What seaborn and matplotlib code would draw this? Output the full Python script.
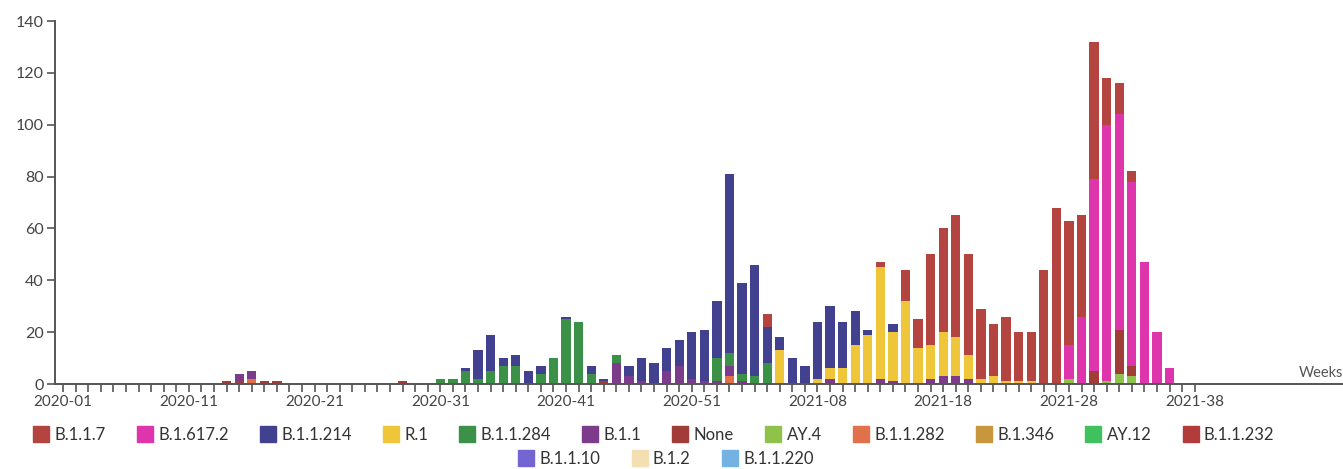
import matplotlib
matplotlib.use("Agg")
import matplotlib.pyplot as plt
from matplotlib.lines import Line2D
import pandas as pd
import seaborn as sns

# lineage order as in the legend (first = top of stack)
LINEAGES = ["B.1.1.7", "B.1.617.2", "B.1.1.214", "R.1", "B.1.1.284", "B.1.1",
            "None", "AY.4", "B.1.1.282", "B.1.346", "AY.12", "B.1.1.232",
            "B.1.1.10", "B.1.2", "B.1.1.220"]
COLORS = ["#b4443f", "#de35ad", "#41418f", "#efc53a", "#3b9147", "#7d3b8b",
          "#a13c38", "#8fc24a", "#e0714a", "#c8963c", "#3fc25e", "#b23b3b",
          "#7466d2", "#f4dfb2", "#74b2e2"]

# weekly counts per lineage
B_1_1_7 = {"2021-04": 5, "2021-13": 2, "2021-15": 12, "2021-16": 11, "2021-17": 35,
           "2021-18": 40, "2021-19": 47, "2021-20": 39, "2021-21": 27, "2021-22": 20,
           "2021-23": 25, "2021-24": 19, "2021-25": 19, "2021-26": 44, "2021-27": 68,
           "2021-28": 48, "2021-29": 39, "2021-30": 53, "2021-31": 18, "2021-32": 12,
           "2021-33": 4}
B_1_617_2 = {"2021-28": 13, "2021-29": 26, "2021-30": 74, "2021-31": 99, "2021-32": 83,
             "2021-33": 71, "2021-34": 47, "2021-35": 20, "2021-36": 6}
B_1_1_214 = {"2020-33": 1, "2020-34": 11, "2020-35": 14, "2020-36": 3, "2020-37": 4,
             "2020-38": 5, "2020-39": 3, "2020-41": 1, "2020-43": 3, "2020-44": 1,
             "2020-46": 4, "2020-47": 9, "2020-48": 8, "2020-49": 9, "2020-50": 10,
             "2020-51": 18, "2020-52": 20, "2020-53": 22, "2021-01": 69, "2021-02": 35,
             "2021-03": 43, "2021-04": 14, "2021-05": 5, "2021-06": 10, "2021-07": 7,
             "2021-08": 22, "2021-09": 24, "2021-10": 18, "2021-11": 13, "2021-12": 2,
             "2021-14": 3}
R_1 = {"2021-05": 13, "2021-08": 2, "2021-09": 4, "2021-10": 6, "2021-11": 15,
       "2021-12": 19, "2021-13": 43, "2021-14": 19, "2021-15": 32, "2021-16": 14,
       "2021-17": 13, "2021-18": 17, "2021-19": 15, "2021-20": 9, "2021-21": 2,
       "2021-22": 3, "2021-23": 1, "2021-24": 1, "2021-25": 1}
B_1_1_284 = {"2020-31": 2, "2020-32": 2, "2020-33": 5, "2020-34": 2, "2020-35": 5,
             "2020-36": 7, "2020-37": 7, "2020-39": 4, "2020-40": 10, "2020-41": 25,
             "2020-42": 24, "2020-43": 4, "2020-45": 3, "2020-53": 9, "2021-01": 5,
             "2021-02": 3, "2021-03": 3, "2021-04": 8}
B_1_1 = {"2020-15": 3, "2020-16": 3, "2020-45": 8, "2020-46": 3, "2020-47": 1,
         "2020-49": 5, "2020-50": 7, "2020-51": 2, "2020-52": 1, "2020-53": 1,
         "2021-01": 4, "2021-02": 1, "2021-09": 2, "2021-13": 2, "2021-14": 1,
         "2021-17": 2, "2021-18": 3, "2021-19": 3, "2021-20": 2}
NONE = {"2020-14": 1, "2020-15": 1, "2020-17": 1, "2020-18": 1, "2020-28": 1,
        "2020-44": 1, "2021-30": 5, "2021-32": 17, "2021-33": 4}
AY_4 = {"2021-28": 2, "2021-31": 1, "2021-32": 4, "2021-33": 3}
B_1_1_282 = {"2020-16": 2, "2021-01": 3}

COUNTS = {"B.1.1.7": B_1_1_7, "B.1.617.2": B_1_617_2, "B.1.1.214": B_1_1_214,
          "R.1": R_1, "B.1.1.284": B_1_1_284, "B.1.1": B_1_1, "None": NONE,
          "AY.4": AY_4, "B.1.1.282": B_1_1_282}

TICK_WEEKS = ["2020-01", "2020-11", "2020-21", "2020-31", "2020-41", "2020-51",
              "2021-08", "2021-18", "2021-28", "2021-38"]


def week_index(label):
    year, week = label.split("-")
    return int(week) - 1 if year == "2020" else 52 + int(week)


rows = []
for lin, d in COUNTS.items():
    for wk, n in d.items():
        rows.append({"week": week_index(wk), "lineage": lin, "n": n})
df = pd.DataFrame(rows)

sns.set_style("white")
plt.rcParams["font.family"] = ["Lato", "DejaVu Sans"]

fig = plt.figure(figsize=(13.43, 4.69), dpi=100)
ax = fig.add_axes([55 / 1343, 85 / 469, 1 - 55 / 1343, 363 / 469])

present = [l for l in LINEAGES if l in COUNTS]
pal = dict(zip(LINEAGES, COLORS))
sns.histplot(data=df, x="week", weights="n", hue="lineage", hue_order=present,
             palette=pal, multiple="stack", discrete=True, shrink=0.74,
             alpha=1, linewidth=0, legend=False, ax=ax)

ax.set_xlim(-0.65, 101.8)
ax.set_ylim(0, 140)
ax.set_yticks(range(0, 141, 20))
ax.set_xticks(range(0, 91))
labels = [""] * 91
for t in TICK_WEEKS:
    labels[week_index(t)] = t
ax.set_xticklabels(labels)
ax.set_xlabel("")
ax.set_ylabel("")
for s in ["top", "right"]:
    ax.spines[s].set_visible(False)
for s in ["left", "bottom"]:
    ax.spines[s].set_color("#555555")
    ax.spines[s].set_linewidth(1.4)
ax.tick_params(axis="both", direction="out", length=6, width=1.2, color="#555555",
               labelcolor="#444444", labelsize=11, pad=2, bottom=True, left=True)
ax.tick_params(axis="y", labelsize=11.5)
ax.text(1.0, 0.012, "Weeks", transform=ax.transAxes, ha="right", va="bottom",
        fontsize=10.5, color="#555555")

handles = [Line2D([], [], marker="s", ls="", markersize=11, color=c) for c in COLORS]
kw = dict(frameon=False, fontsize=12, handlelength=0.9, handletextpad=0.35,
          columnspacing=1.9, labelcolor="#333333", loc="center")
fig.legend(handles[:12], LINEAGES[:12], ncol=12, bbox_to_anchor=(0.487, 0.072), **kw)
fig.legend(handles[12:], LINEAGES[12:], ncol=3, bbox_to_anchor=(0.496, 0.022), **kw)

fig.savefig("out.png", dpi=100)
